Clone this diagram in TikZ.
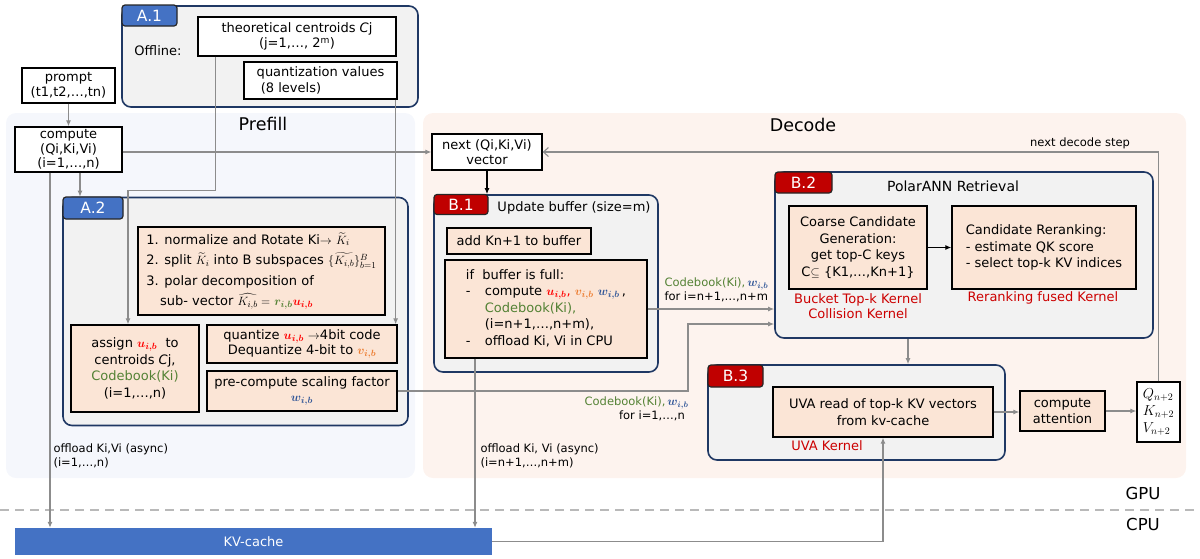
\documentclass[tikz,border=0pt]{standalone}
\usepackage{fontspec}
\setmainfont{DejaVu Sans}
\usepackage{amsmath,bm}
\usetikzlibrary{arrows.meta,calc}
\definecolor{navy}{RGB}{31,56,100}
\definecolor{tabblue}{RGB}{68,114,196}
\definecolor{tabred}{RGB}{192,0,0}
\definecolor{peach}{RGB}{251,229,214}
\definecolor{contfill}{RGB}{242,242,242}
\definecolor{prebg}{RGB}{245,247,252}
\definecolor{decbg}{RGB}{253,243,238}
\definecolor{lgray}{RGB}{140,140,140}
\definecolor{cr}{RGB}{255,0,0}
\definecolor{co}{RGB}{237,125,49}
\definecolor{cb}{RGB}{47,85,151}
\definecolor{cg}{RGB}{84,130,53}
\definecolor{kred}{RGB}{204,0,0}
\newcommand{\fnN}{\fontsize{13}{16.5}\selectfont}
\newcommand{\fnM}{\fontsize{13}{15.5}\selectfont}
\newcommand{\fnS}{\fontsize{11.5}{14.5}\selectfont}
\newcommand{\fnK}{\fontsize{13}{15.5}\selectfont}
\newcommand{\fnT}{\fontsize{15.5}{17}\selectfont}
\newcommand{\fnB}{\fontsize{17.5}{20}\selectfont}
\newcommand{\uib}{{\color{cr}$\bm{u}_{\bm{i,b}}$}}
\newcommand{\vib}{{\color{co}$\bm{v}_{\bm{i,b}}$}}
\newcommand{\wib}{{\color{cb}$\bm{w}_{\bm{i,b}}$}}
\newcommand{\cbk}{{\color{cg}Codebook(Ki)}}
\tikzset{
  sz/.style 2 args={minimum width=#1pt, minimum height=#2pt},
  region/.style={rounded corners=10pt, inner sep=0pt},
  cont/.style={draw=navy, line width=1.6pt, fill=contfill, rounded corners=9pt, inner sep=0pt},
  tabA/.style={draw=black!85, line width=1.2pt, fill=tabblue, rounded corners=3pt, text=white, font=\fnT, inner sep=0pt},
  tabB/.style={tabA, fill=tabred},
  wbox/.style={draw=black, line width=1.3pt, fill=white, inner sep=2pt, align=center},
  pbox/.style={wbox, fill=peach},
  conn/.style={draw=lgray, line width=1.1pt, -{Latex[length=6pt,width=5pt]}},
  blk/.style={draw=black, line width=1.2pt, -{Latex[length=6pt,width=5pt]}},
  kern/.style={text=kred, font=\fnK, align=center},
  lbl/.style={font=\fnS, align=left},
}
\begin{document}
\begin{tikzpicture}[x=1pt,y=-1pt, every node/.style={font=\fnN}]
\useasboundingbox (0,0) rectangle (1200,558);
% regions
\node[region, fill=prebg, sz={409}{365}] (preg) at (210.5,295.5) {};
\node[region, fill=decbg, sz={763}{365}] (dreg) at (804.5,295.5) {};
\node[font=\fnB] (ptitle) at (263,124) {Prefill};
\node[font=\fnB] (dtitle) at (803,125) {Decode};
% A.1
\node[cont, sz={296}{101}] (a1) at (270,56.5) {};
\node[tabA, sz={55}{21}] (a1t) at (149.5,15.5) {A.1};
\node (offl) at (158,51) {Offline:};
\node[wbox, sz={198}{39}, font=\fnM] (cent) at (297,36.5) {theoretical centroids \textit{C}j\\(j=1,…, 2\textsuperscript{m})};
\node[wbox, sz={153}{37}, align=left, font=\fnM] (qv) at (320.5,80.5) {quantization values\\\ (8 levels)};
% prompt, compute
\node[wbox, sz={93}{35}, font=\fnM] (prompt) at (68.5,85.5) {prompt\\(t1,t2,…,tn)};
\node[wbox, sz={107}{45}, inner sep=1pt, font=\fontsize{13}{14.3}\selectfont] (compute) at (68.5,149.5) {compute\\(Qi,Ki,Vi)\\(i=1,…,n)};
% A.2
\node[cont, sz={345}{228}] (a2) at (235.5,311.5) {};
\node[tabA, sz={60}{22}] (a2t) at (93,208) {A.2};
\node[pbox, sz={247}{88}, align=left, inner sep=1pt, font=\fontsize{13}{20.5}\selectfont] (steps) at (261.5,271)
 {1. normalize and Rotate Ki$\rightarrow$ $\widetilde{K}_i$\\
  2. split $\widetilde{K}_i$ into B subspaces $\{\widetilde{K_{i,b}}\}_{b=1}^{B}$\\
  3. polar decomposition of\\
  \hspace*{1.05em}sub- vector $\widehat{K_{i,b}}=$ {\color{cg}$\bm{r}_{\bm{i,b}}$}\uib};
\node[pbox, sz={128}{87}] (assign) at (135,368.5) {assign \uib\ \ to\\centroids \textit{C}j,\\\cbk\\(i=1,…,n)};
\node[pbox, sz={190}{38}, font=\fnM] (quant) at (302,344) {quantize \uib\ $\rightarrow$4bit code\\Dequantize 4-bit to \vib};
\node[pbox, sz={190}{40}, font=\fnM] (pre) at (302,391) {pre-compute scaling factor\\\wib};
% next vector
\node[wbox, sz={110}{36}, font=\fnM] (next) at (487,152) {next (Qi,Ki,Vi)\\vector};
% B.1
\node[cont, sz={224}{177}] (b1) at (546,283.5) {};
\node[tabB, sz={54}{20}] (b1t) at (461,204.5) {B.1};
\node (b1title) at (574,208) {Update buffer (size=m)};
\node[pbox, sz={144}{26}] (add) at (519,241) {add Kn+1 to buffer};
\node[pbox, sz={202}{98}, align=left] (ifb) at (546,309)
 {\begin{tabular}{@{}l@{\hspace{1.1em}}l@{}}
  \multicolumn{2}{@{}l@{}}{if\ \ buffer is full:}\\
  - & compute \uib{\color{cr},} \vib\ \wib\,,\\
    & \cbk{\color{cg},}\\
    & (i=n+1,…,n+m),\\
  - & offload Ki, Vi in CPU
  \end{tabular}};
% B.2
\node[cont, sz={378}{166}] (b2) at (964,255) {};
\node[tabB, sz={57}{21}] (b2t) at (803.5,182.5) {B.2};
\node[font=\fontsize{14}{16}\selectfont] (b2title) at (953,186) {PolarANN Retrieval};
\node[pbox, sz={138}{83}] (coarse) at (858,247.5) {Coarse Candidate\\Generation:\\get top-C keys\\C$\subseteq$ \{K1,…,Kn+1\}};
\node[pbox, sz={184}{83}, align=left] (rerank) at (1044,247.5) {Candidate Reranking:\\- estimate QK score\\- select top-k KV indices};
\node[kern] (k1) at (858,306) {Bucket Top-k Kernel\\Collision Kernel};
\node[kern] (k2) at (1043,298) {Reranking fused Kernel};
% B.3
\node[cont, sz={297}{95}] (b3) at (856.5,412.5) {};
\node[tabB, sz={55}{22}] (b3t) at (735.5,376) {B.3};
\node[pbox, sz={220}{50}] (uva) at (883,412) {UVA read of top-k KV vectors\\from kv-cache};
\node[kern] (k3) at (827,446) {UVA Kernel};
\node[pbox, sz={85}{40}] (att) at (1062.5,411) {compute\\attention};
\node[wbox, sz={43}{60}, align=left, inner sep=1pt, font=\fontsize{14}{17}\selectfont] (q) at (1158.5,412) {$Q_{n+2}$\\$K_{n+2}$\\$V_{n+2}$};
% KV cache
\node[fill=tabblue, sz={477}{27}, text=white, inner sep=0pt] (kv) at (253.5,541.5) {KV-cache};
% GPU / CPU
\coordinate (dl) at (0,510);
\coordinate (dr) at (1200,510);
\draw[draw=gray!55, line width=1.8pt, dash pattern=on 9pt off 6pt] (dl) -- (dr);
\node[font=\fontsize{16.5}{18}\selectfont] (gpu) at (1143,493) {GPU};
\node[font=\fontsize{16.5}{18}\selectfont] (cpu) at (1143,524) {CPU};
% labels
\node[lbl, anchor=west] (lab1) at (661,290) {\cbk{\color{cg},}\,\wib\\for i=n+1,…,n+m};
\node[lbl, anchor=east, align=right] (lab2) at (692,409) {\cbk{\color{cg},}\,\wib\\for i=1,…,n\ \ };
\node[lbl, anchor=west] (off1) at (50,456) {offload Ki,Vi (async)\\(i=1,…,n)};
\node[lbl, anchor=west] (off2) at (477,456) {offload Ki, Vi (async)\\(i=n+1,…,n+m)};
\node[lbl] (nds) at (1080,143) {next decode step};
% connectors
\draw[conn] (prompt) -- (compute);
\coordinate (k1s) at ([xshift=11.5pt]compute.south);
\draw[conn] (k1s) -- (k1s |- a2.north);
\coordinate (k2s) at ([xshift=-18.5pt]compute.south);
\draw[conn] (k2s) -- (k2s |- kv.north);
\draw[conn] (compute.east |- next.west) -- (next.west);
\coordinate (cs) at ([xshift=18pt]cent.south west);
\draw[conn] (cs) -- ++(0,134) -| ([xshift=-7pt]assign.north);
\draw[conn] ([xshift=-2pt]qv.south east) -- ([xshift=-2pt]quant.north east);
\draw[blk] (next.south) -- (next.south |- b1.north);
\draw[conn] (ifb.east) -- (ifb.east -| b2.west);
\coordinate (b2in) at (b2.west |- 0,324);
\draw[conn] (pre.east) -| (b2in -| 688,0) -- (b2in);
\coordinate (k3s) at ([xshift=-71pt]ifb.south);
\draw[conn] (k3s) -- (k3s |- kv.north);
\draw[blk] (coarse) -- (rerank);
\coordinate (b23) at (b2.south -| 908,0);
\draw[conn] (b23) -- (b23 |- b3.north);
\draw[conn] (uva.east) -- (uva.east -| att.west);
\draw[conn] (att.east) -- (att.east -| q.west);
\draw[draw=lgray, line width=1.1pt, -{Straight Barb[length=5pt,width=9pt]}] (q.north) |- (next.east);
\draw[conn] (kv.east) -| (uva.south);
\end{tikzpicture}
\end{document}
